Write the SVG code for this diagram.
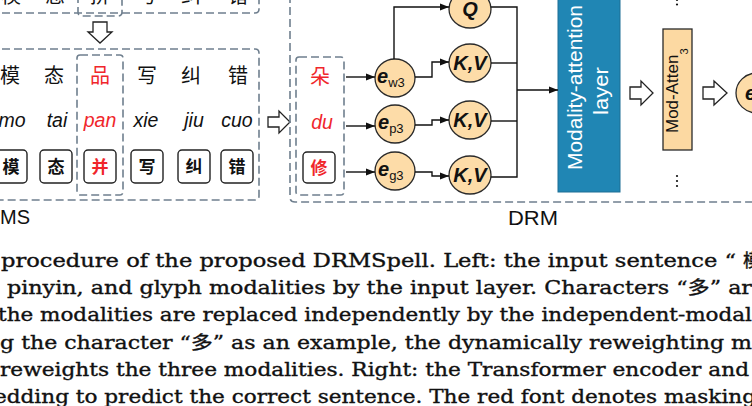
<svg xmlns="http://www.w3.org/2000/svg" width="752" height="406" viewBox="0 0 752 406">
<defs>
<marker id="ah" viewBox="0 0 10 8" refX="10" refY="4" markerWidth="9" markerHeight="7.5" markerUnits="userSpaceOnUse" orient="auto"><path d="M0,0 L10,4 L0,8 z" fill="#111"/></marker>
<style>
.dash{fill:none;stroke:#6f7f8e;stroke-width:1.6;stroke-dasharray:8 4}
.hollow{fill:#fff;stroke:#222;stroke-width:1.3;stroke-linejoin:miter}
.node{fill:#fddca8;stroke:#2a2a2a;stroke-width:1.3}
.conn{fill:none;stroke:#111;stroke-width:1.4}
.cjk{font-family:"Noto Sans CJK SC",sans-serif;font-size:20px;text-anchor:middle;fill:#111}
.py{font-family:"Liberation Sans",Arial,sans-serif;font-style:italic;font-size:19.5px;text-anchor:middle;fill:#111}
.gbox{fill:#fff;stroke:#222;stroke-width:1.4}
.gl{font-family:"Noto Sans CJK SC",serif;font-weight:bold;font-size:17px;text-anchor:middle;fill:#111}
.red{fill:#f0262b}
.lbl{font-family:"Liberation Sans",Arial,sans-serif;font-size:20px;fill:#111}
.var{font-family:"Liberation Sans",Arial,sans-serif;font-weight:bold;font-style:italic;font-size:20px;fill:#111}
.sub{font-size:13px;font-style:normal;font-weight:normal}
.wt{font-family:"Liberation Sans",Arial,sans-serif;font-size:20px;fill:#fff}
.cap{font-family:"DejaVu Serif","Noto Sans CJK SC",serif;font-size:18px;fill:#111;stroke:#111;stroke-width:0.35}
.dot{fill:#111}
</style>
</defs>

<!-- top (partial) sentence box -->
<g id="top-sentence">
  <path class="dash" d="M -10 13 H 255 Q 259 13 259 9 V -5"/>
  <path class="dash" d="M 78 -5 V 12 Q 78 16 82 16 H 118 Q 122 16 122 12 V -5"/>
  <text class="cjk" x="11" y="3">模</text>
  <text class="cjk" x="55" y="3">态</text>
  <text class="cjk" x="100" y="3">拼</text>
  <text class="cjk" x="147" y="3">写</text>
  <text class="cjk" x="191" y="3">纠</text>
  <text class="cjk" x="238" y="3">错</text>
</g>

<!-- input layer box (MS) -->
<g id="input-layer">
  <path class="dash" d="M -10 49 H 255 Q 259 49 259 53 V 196 Q 259 200 255 200 H -10"/>
  <rect class="dash" x="77" y="55" width="46" height="140" rx="3"/>
  <text class="cjk" x="10" y="83">模</text>
  <text class="cjk" x="54" y="83">态</text>
  <text class="cjk red" x="100" y="83">品</text>
  <text class="cjk" x="147" y="83">写</text>
  <text class="cjk" x="191" y="83">纠</text>
  <text class="cjk" x="238" y="83">错</text>
  <text class="py" x="12" y="127">mo</text>
  <text class="py" x="57" y="127">tai</text>
  <text class="py red" x="100" y="127">pan</text>
  <text class="py" x="146" y="127">xie</text>
  <text class="py" x="194" y="127">jiu</text>
  <text class="py" x="237" y="127">cuo</text>
  <rect class="gbox" x="-5" y="150" width="32" height="33" rx="4"/>
  <rect class="gbox" x="40" y="150" width="32" height="33" rx="4"/>
  <rect class="gbox" x="84" y="150" width="32" height="33" rx="4"/>
  <rect class="gbox" x="131" y="150" width="32" height="33" rx="4"/>
  <rect class="gbox" x="178" y="150" width="32" height="33" rx="4"/>
  <rect class="gbox" x="221" y="150" width="32" height="33" rx="4"/>
  <text class="gl" x="11" y="173">模</text>
  <text class="gl" x="56" y="173">态</text>
  <text class="gl red" x="100" y="173">并</text>
  <text class="gl" x="147" y="173">写</text>
  <text class="gl" x="194" y="173">纠</text>
  <text class="gl" x="237" y="173">错</text>
  <text class="lbl" x="0" y="224">MS</text>
</g>

<!-- hollow arrows -->
<g id="hollow-arrows">
  <polygon class="hollow" points="93,22 107,22 107,32 112,32 100,43 88,32 93,32"/>
  <polygon class="hollow" points="268,117 279,117 279,111 290,122 279,133 279,127 268,127"/>
  <polygon class="hollow" points="630,87 641,87 641,81 653,93 641,105 641,99 630,99"/>
  <polygon class="hollow" points="703,87 714,87 714,81 727,93 714,105 714,99 703,99"/>
</g>

<!-- DRM box -->
<g id="drm">
  <path class="dash" d="M 290 -5 V 197 Q 290 202 295 202 H 760"/>
  <text class="lbl" x="508" y="225" textLength="50" lengthAdjust="spacingAndGlyphs">DRM</text>
</g>

<g id="drm-input">
  <rect class="dash" x="296" y="57" width="48" height="138" rx="3"/>
  <text class="cjk red" x="320" y="84">朵</text>
  <text class="py red" x="322" y="129">du</text>
  <rect class="gbox" x="303" y="152" width="32" height="31" rx="4"/>
  <text class="gl red" x="319" y="174">修</text>
</g>

<g id="e-w3"><ellipse class="node" cx="395" cy="78" rx="20" ry="19"/><text class="var" x="377" y="83">e<tspan class="sub" dy="4">w3</tspan></text></g>
<g id="e-p3"><ellipse class="node" cx="395" cy="124" rx="20" ry="19"/><text class="var" x="378" y="129">e<tspan class="sub" dy="4">p3</tspan></text></g>
<g id="e-g3"><ellipse class="node" cx="395" cy="171" rx="20" ry="19"/><text class="var" x="378" y="176">e<tspan class="sub" dy="4">g3</tspan></text></g>

<g id="q"><ellipse class="node" cx="470" cy="9" rx="21" ry="19"/><text class="var" x="470" y="16" text-anchor="middle">Q</text></g>
<g id="kv1"><ellipse class="node" cx="470" cy="63" rx="21" ry="19"/><text class="var" x="470" y="70" text-anchor="middle">K,V</text></g>
<g id="kv2"><ellipse class="node" cx="470" cy="120" rx="21" ry="19"/><text class="var" x="470" y="127" text-anchor="middle">K,V</text></g>
<g id="kv3"><ellipse class="node" cx="470" cy="175" rx="21" ry="19"/><text class="var" x="470" y="182" text-anchor="middle">K,V</text></g>

<g id="modality-attention">
  <rect x="558" y="-5" width="62" height="197" fill="#2086b4" stroke="#1c6f95" stroke-width="1"/>
  <text class="wt" transform="translate(582,170) rotate(-90)" textLength="165" lengthAdjust="spacingAndGlyphs">Modality-attention</text>
  <text class="wt" transform="translate(608,115) rotate(-90)" textLength="48" lengthAdjust="spacingAndGlyphs">layer</text>
</g>

<g id="mod-atten3">
  <rect x="663" y="29" width="29" height="121" fill="#fcd9a2" stroke="#2a2a2a" stroke-width="1.3"/>
  <text transform="translate(678,133) rotate(-90)" font-family="Liberation Sans, Arial, sans-serif" font-size="17" fill="#111">Mod-Atten<tspan font-size="11" dy="10">3</tspan></text>
  <circle class="dot" cx="677" cy="0" r="1.1"/>
  <circle class="dot" cx="677" cy="4.5" r="1.1"/>
  <circle class="dot" cx="677" cy="176" r="1.1"/>
  <circle class="dot" cx="677" cy="181" r="1.1"/>
  <circle class="dot" cx="677" cy="186" r="1.1"/>
</g>

<g id="output-node">
  <ellipse class="node" cx="757" cy="93" rx="21" ry="20"/>
  <text class="var" x="745" y="100">e</text>
</g>

<!-- connectors -->
<g id="connectors">
  <path class="conn" d="M346,77 H375" marker-end="url(#ah)"/>
  <path class="conn" d="M346,126 H375" marker-end="url(#ah)"/>
  <path class="conn" d="M346,172 H375" marker-end="url(#ah)"/>
  <path class="conn" d="M394,59 V7 H449" marker-end="url(#ah)"/>
  <path class="conn" d="M415,77 H432 V62 H449" marker-end="url(#ah)"/>
  <path class="conn" d="M415,125 H432 V120 H449" marker-end="url(#ah)"/>
  <path class="conn" d="M415,172 H432 V176 H449" marker-end="url(#ah)"/>
  <path class="conn" d="M491,7 H517 V177 H491"/>
  <path class="conn" d="M491,63 H517"/>
  <path class="conn" d="M491,121 H517"/>
  <path class="conn" d="M517,90 H558" stroke-width="1.6" marker-end="url(#ah)"/>
</g>

<!-- caption -->
<g id="caption">
  <text class="cap" x="1" y="267" textLength="735" lengthAdjust="spacingAndGlyphs">procedure of the proposed DRMSpell. Left: the input sentence “</text>
  <text class="cap" x="743" y="267">模</text>
  <text class="cap" x="7" y="294" textLength="745" lengthAdjust="spacingAndGlyphs">pinyin, and glyph modalities by the input layer. Characters “多” ar</text>
  <text class="cap" x="-2" y="321" textLength="754" lengthAdjust="spacingAndGlyphs">the modalities are replaced independently by the independent-modal</text>
  <text class="cap" x="0" y="349" textLength="752" lengthAdjust="spacingAndGlyphs">g the character “多” as an example, the dynamically reweighting m</text>
  <text class="cap" x="0" y="376" textLength="749" lengthAdjust="spacingAndGlyphs">reweights the three modalities. Right: the Transformer encoder and</text>
  <text class="cap" x="-6" y="403" textLength="762" lengthAdjust="spacingAndGlyphs">edding to predict the correct sentence. The red font denotes masking</text>
</g>
</svg>
